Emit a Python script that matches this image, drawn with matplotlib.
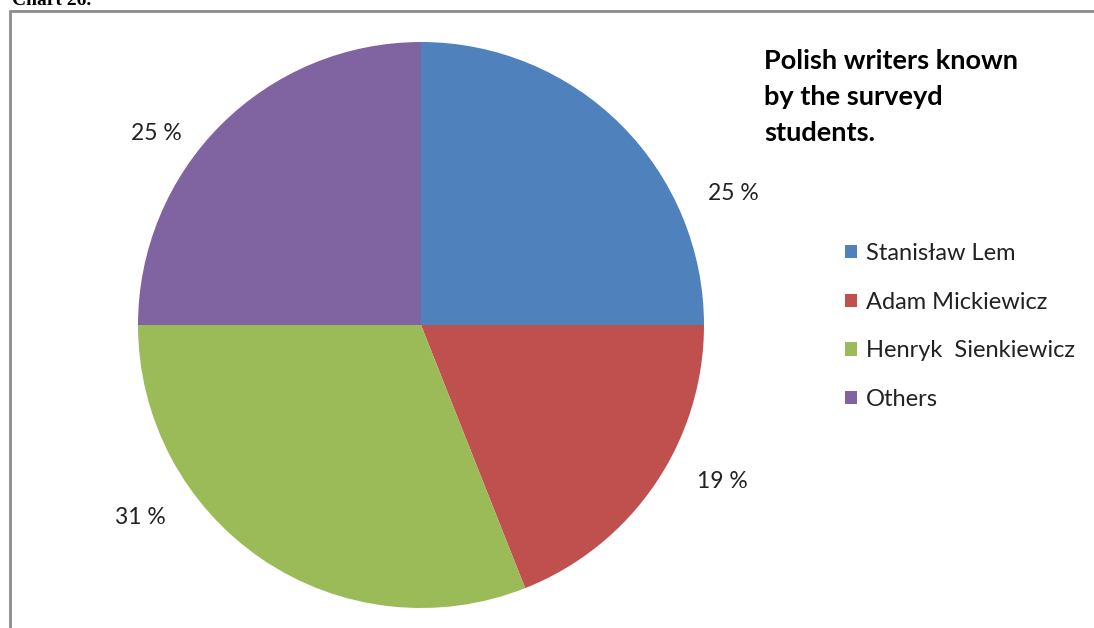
import matplotlib
matplotlib.use("Agg")
import matplotlib.pyplot as plt
from matplotlib.patches import Rectangle, Patch

# Survey data
writers = ["Stanisław Lem", "Adam Mickiewicz", "Henryk  Sienkiewicz", "Others"]
shares = [25, 19, 31, 25]
colors = ["#4F81BD", "#C0504D", "#9BBB59", "#8064A2"]
title_lines = ["Polish writers known", "by the surveyd", "students."]

W, H = 1094, 628
fig = plt.figure(figsize=(W / 100, H / 100), dpi=100)
ax = fig.add_axes([0, 0, 1, 1])

FONT = ["Lato", "DejaVu Sans"]

# Pie
center = (421, H - 325)
radius = 283
ax.pie(shares, colors=colors, startangle=90, counterclock=False,
       center=center, radius=radius, frame=True,
       wedgeprops=dict(linewidth=0))
ax.set_xlim(0, W)
ax.set_ylim(0, H)
ax.set_aspect("equal")
ax.axis("off")

# Chart frame
ax.add_patch(Rectangle((10, -10), 1090, H - 11 + 10, fill=False,
                       edgecolor="#8c8c8c", linewidth=2))

# Caption above the frame (clipped by the page edge)
ax.text(12, H - 5, "Chart 26.", family=["Liberation Serif"], fontweight="bold",
        fontsize=14, va="baseline", ha="left", color="black")

# Percentage labels
label_pos = [(733, H - 193), (722, H - 481), (140, H - 517), (156, H - 133)]
for v, (x, y) in zip(shares, label_pos):
    ax.text(x, y, f"{v} %", family=FONT, fontsize=16.5, ha="center",
            va="center", color="#222222")

# Title, one baseline per line
for i, line in enumerate(title_lines):
    ax.text(764, H - 69 - 36 * i, line, family=FONT, fontweight="bold",
            fontsize=19.5, ha="left", va="baseline", color="black")

# Legend
handles = [Patch(facecolor=c, edgecolor="none") for c in colors]
leg = ax.legend(handles, writers, loc="upper left",
                bbox_to_anchor=(845 / W, 1 - 243 / H), frameon=False,
                prop=dict(family=FONT, size=17), handlelength=0.5,
                handleheight=0.5, handletextpad=0.4, labelspacing=1.17,
                borderpad=0, borderaxespad=0)
for t in leg.get_texts():
    t.set_color("#222222")

fig.savefig("out.png", dpi=100)
